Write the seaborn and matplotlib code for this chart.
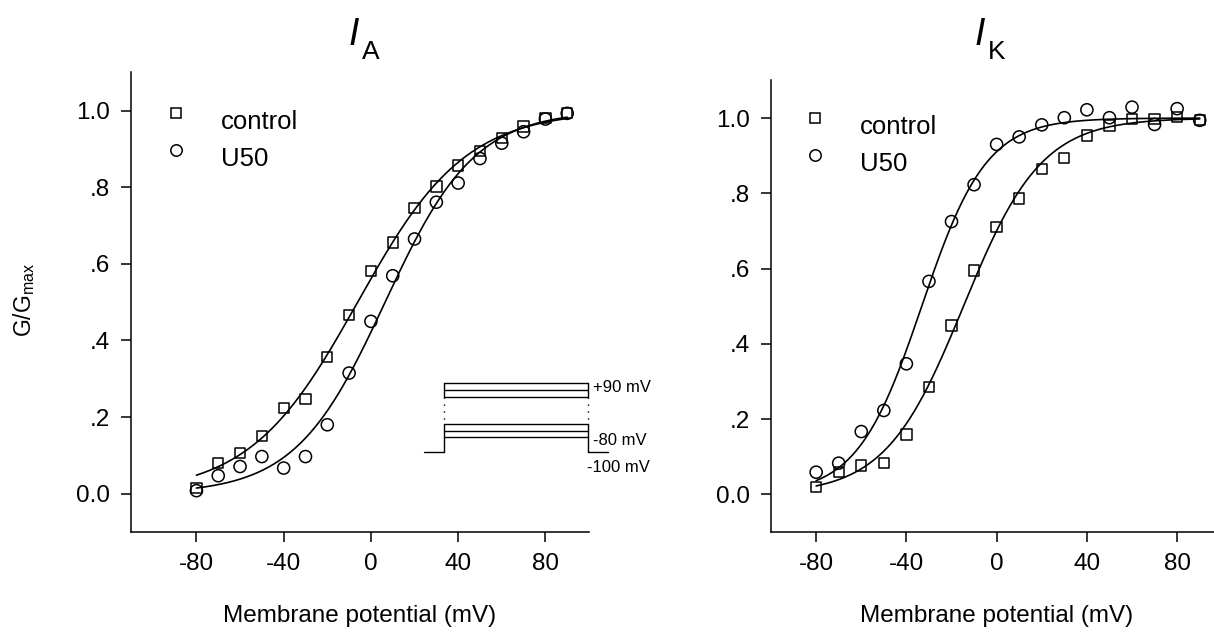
import numpy as np
import pandas as pd
import matplotlib
matplotlib.use("Agg")
import matplotlib.pyplot as plt
import seaborn as sns

# ---------------- data ----------------
potential = [-80, -70, -60, -50, -40, -30, -20, -10, 0, 10, 20, 30, 40, 50, 60, 70, 80, 90]

ia_control = [0.015, 0.080, 0.106, 0.150, 0.224, 0.247, 0.357, 0.467, 0.582,
              0.656, 0.746, 0.802, 0.857, 0.895, 0.929, 0.959, 0.981, 0.994]
ia_u50 = [0.008, 0.047, 0.071, 0.097, 0.067, 0.097, 0.180, 0.315, 0.450,
          0.569, 0.665, 0.761, 0.811, 0.875, 0.915, 0.945, 0.978, 0.993]

ik_control = [0.019, 0.059, 0.077, 0.083, 0.159, 0.285, 0.449, 0.595, 0.710,
              0.786, 0.865, 0.894, 0.954, 0.980, 0.998, 0.998, 1.003, 0.995]
ik_u50 = [0.059, 0.083, 0.167, 0.223, 0.347, 0.566, 0.725, 0.823, 0.930,
          0.950, 0.982, 1.001, 1.022, 1.001, 1.029, 0.983, 1.025, 0.994]

series_names = ["control", "U50"]
yticks = [0.0, 0.2, 0.4, 0.6, 0.8, 1.0]
ytick_labels = ["0.0", ".2", ".4", ".6", ".8", "1.0"]
xticks = [-80, -40, 0, 40, 80]

# ---------------- style ----------------
sns.set_style("ticks")
plt.rcParams["font.family"] = ["Liberation Sans", "DejaVu Sans"]
plt.rcParams["mathtext.fontset"] = "custom"
plt.rcParams["mathtext.rm"] = "Liberation Sans"
plt.rcParams["mathtext.it"] = "Liberation Sans:italic"
for key in ["text.color", "axes.labelcolor", "xtick.color", "ytick.color", "axes.edgecolor"]:
    plt.rcParams[key] = "black"
plt.rcParams["axes.linewidth"] = 1.1
plt.rcParams["xtick.major.width"] = 1.1
plt.rcParams["ytick.major.width"] = 1.1
plt.rcParams["xtick.major.size"] = 7
plt.rcParams["ytick.major.size"] = 7

FW, FH = 1214, 642


def boltzmann_fit(v, g):
    """Least-squares Boltzmann fit (Gmax = 1) by grid search."""
    v = np.asarray(v, float)
    g = np.asarray(g, float)
    vh = np.arange(-60, 30, 0.1)[:, None, None]
    k = np.arange(4, 40, 0.1)[None, :, None]
    pred = 1.0 / (1.0 + np.exp((vh - v[None, None, :]) / k))
    sse = ((pred - g[None, None, :]) ** 2).sum(axis=2)
    i, j = np.unravel_index(np.argmin(sse), sse.shape)
    return vh[i, 0, 0], k[0, j, 0]


fig = plt.figure(figsize=(FW / 100, FH / 100), dpi=100)
ax_a = fig.add_axes([0.1079, 0.1713, 0.3773, 0.716])
ax_k = fig.add_axes([0.6351, 0.1713, 0.3717, 0.7034])

panels = [
    (ax_a, ia_control, ia_u50, (-110, 100), 175.7, 113.3, 150.0, 221),
    (ax_k, ik_control, ik_u50, (-100, 100), 815.0, 118.3, 155.0, 860),
]

for ax, ctrl, u50, xlim, mk_x, sq_y, ci_y, txt_x in panels:
    df = pd.DataFrame({
        "V": potential * 2,
        "G": ctrl + u50,
        "group": [series_names[0]] * len(potential) + [series_names[1]] * len(potential),
    })
    # fitted Boltzmann curves
    vfine = np.linspace(potential[0], potential[-1], 400)
    for vals in (ctrl, u50):
        vh, kk = boltzmann_fit(potential, vals)
        fit = pd.DataFrame({"V": vfine, "G": 1.0 / (1.0 + np.exp((vh - vfine) / kk))})
        sns.lineplot(data=fit, x="V", y="G", ax=ax, color="black", lw=1.2, zorder=2)
    # data points
    sns.scatterplot(data=df[df.group == "control"], x="V", y="G", ax=ax, marker="s",
                    s=55, facecolors="none", edgecolor="black", linewidth=1.1, zorder=3)
    sns.scatterplot(data=df[df.group == "U50"], x="V", y="G", ax=ax, marker="o",
                    s=76, facecolors="none", edgecolor="black", linewidth=1.1, zorder=3)

    ax.set_xlim(*xlim)
    ax.set_ylim(-0.1, 1.1)
    ax.set_xticks(xticks)
    ax.set_xticklabels([str(t) for t in xticks])
    ax.set_yticks(yticks)
    ax.set_yticklabels(ytick_labels)
    ax.tick_params(labelsize=17.5, pad=8, direction="out")
    ax.set_xlabel("Membrane potential (mV)", fontsize=17.5, labelpad=22)
    ax.set_ylabel("")
    sns.despine(ax=ax)

    # legend (drawn manually to match the reference layout)
    bb = ax.get_position()

    def to_ax(px, py, bb=bb):
        fx, fy = px / FW, 1 - py / FH
        return (fx - bb.x0) / bb.width, (fy - bb.y0) / bb.height

    x1, y1 = to_ax(mk_x, sq_y)
    x2, y2 = to_ax(mk_x, ci_y)
    ax.plot([x1], [y1], marker="s", ms=7.5, mfc="none", mec="black", mew=1.1,
            transform=ax.transAxes, clip_on=False)
    ax.plot([x2], [y2], marker="o", ms=8.2, mfc="none", mec="black", mew=1.1,
            transform=ax.transAxes, clip_on=False)
    tx1, ty1 = to_ax(txt_x, sq_y + 9)
    tx2, ty2 = to_ax(txt_x, ci_y + 9)
    ax.text(tx1, ty1, series_names[0], transform=ax.transAxes, fontsize=18.5, va="center", ha="left")
    ax.text(tx2, ty2, series_names[1], transform=ax.transAxes, fontsize=18.5, va="center", ha="left")

# y label
fig.text(24 / FW, 1 - 300 / FH, r"G/G$_{\mathrm{max}}$", rotation=90, fontsize=16.5,
         ha="center", va="center")

# titles: italic I with lowered subscript
for cx, sub in [(354, "A"), (980, "K")]:
    fig.text(cx / FW, 1 - 17 / FH, "I", fontsize=27, style="italic", ha="center", va="top")
    fig.text((cx + 8) / FW, 1 - 40 / FH, sub, fontsize=19, ha="left", va="top")

# voltage-protocol inset (schematic) in the I_A panel
bb = ax_a.get_position()
ins_px = (420, 375, 612, 456)  # left, top, right, bottom in pixels
x0 = (ins_px[0] / FW - bb.x0) / bb.width
x1 = (ins_px[2] / FW - bb.x0) / bb.width
y0 = ((1 - ins_px[3] / FH) - bb.y0) / bb.height
y1 = ((1 - ins_px[1] / FH) - bb.y0) / bb.height
ins = ax_a.inset_axes([x0, y0, x1 - x0, y1 - y0])
ins.set_xlim(ins_px[0], ins_px[2])
ins.set_ylim(ins_px[3], ins_px[1])
ins.axis("off")

t_hold0, t_on, t_off, t_hold1 = 424, 444, 587.7, 608
hold_level = 451.7
top_levels = [382.7, 389.7, 396.7]
low_levels = [424.0, 430.7, 437.3]
lw = 1.0
ins.plot([t_hold0, t_on], [hold_level, hold_level], color="black", lw=lw)
ins.plot([t_off, t_hold1], [hold_level, hold_level], color="black", lw=lw)
for lv in top_levels + low_levels:
    ins.plot([t_on, t_off], [lv, lv], color="black", lw=lw)
for t in (t_on, t_off):
    ins.plot([t, t], [top_levels[0], top_levels[-1]], color="black", lw=lw)
    ins.plot([t, t], [top_levels[-1], low_levels[0]], color="black", lw=1.0, ls=(0, (1, 4)))
ins.plot([t_on, t_on], [low_levels[0], hold_level], color="black", lw=lw)
ins.plot([t_off, t_off], [low_levels[0], low_levels[-1]], color="black", lw=lw)
ins.plot([t_off, t_off], [low_levels[-1], hold_level], color="black", lw=lw)
ins.text(593, 388, "+90 mV", fontsize=12, ha="left", va="center", clip_on=False)
ins.text(593, 441, "-80 mV", fontsize=12, ha="left", va="center", clip_on=False)
ins.text(587, 468, "-100 mV", fontsize=12, ha="left", va="center", clip_on=False)

fig.savefig("out.png", dpi=100)
